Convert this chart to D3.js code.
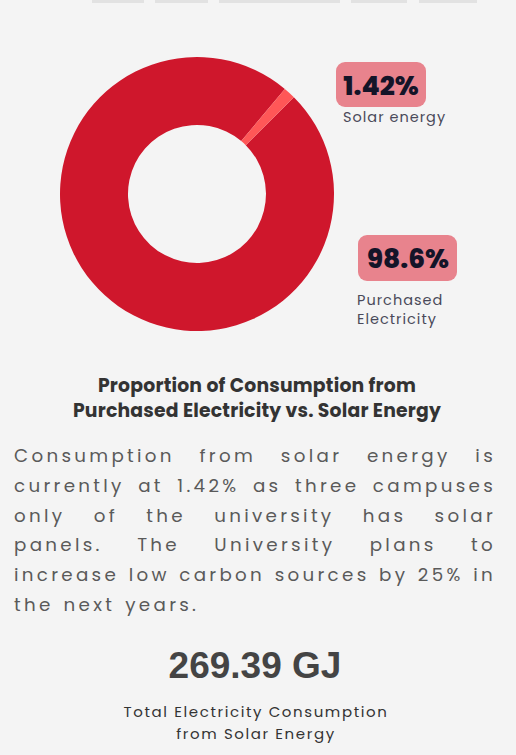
<!DOCTYPE html>
<html>
<head>
<meta charset="utf-8">
<script src="https://cdn.jsdelivr.net/npm/d3@7"></script>
<style>
html,body{margin:0;padding:0;background:#f4f4f4;}
svg{display:block;}
</style>
</head>
<body>
<svg id="chart" width="516" height="755"></svg>
<script>
const categories = ["Purchased Electricity", "Solar energy"];
const values = [98.58, 1.42];
const labelTexts = ["98.6%", "1.42%"];
const labelSubs = [["Purchased", "Electricity"], ["Solar energy"]];
const colors = ["#cf172c", "#ff5757"];
const titleLines = ["Proportion of Consumption from", "Purchased Electricity vs. Solar Energy"];
const bodyLines = [
  "Consumption from solar energy is",
  "currently at 1.42% as three campuses",
  "only of the university has solar",
  "panels. The University plans to",
  "increase low carbon sources by 25% in",
  "the next years."
];
const totalValue = "269.39 GJ";
const totalLabel = ["Total Electricity Consumption", "from Solar Energy"];

const svg = d3.select("#chart");

// top decorative strip
const strip = [[92,144],[155,208],[219,340],[351,407],[419,477]];
svg.selectAll("rect.strip").data(strip).join("rect")
  .attr("x", d => d[0]).attr("y", 0).attr("width", d => d[1]-d[0]).attr("height", 3)
  .attr("fill", "#e2e2e2");

// donut
const cx = 197, cy = 194, R = 137, r = 69;
const pie = d3.pie().sort(null).value(d => d)
  .startAngle(Math.PI/4).endAngle(Math.PI/4 + 2*Math.PI);
const arc = d3.arc().innerRadius(r).outerRadius(R);
const g = svg.append("g").attr("transform", `translate(${cx},${cy})`);
g.selectAll("path").data(pie(values)).join("path")
  .attr("d", arc).attr("fill", (d,i) => colors[i]);

// labels
const boxes = [
  {x:358, y:235, w:99, h:46, tx:408, ty:268, sx:357, sy:[305,324]},
  {x:336, y:62, w:90, h:45, tx:381, ty:95, sx:343, sy:[122]}
];
const fontMain = "Poppins, 'Open Sans', Inter, sans-serif";
boxes.forEach((b,i) => {
  svg.append("rect").attr("x", b.x).attr("y", b.y).attr("width", b.w).attr("height", b.h)
    .attr("rx", 9).attr("fill", "#e8838d");
  svg.append("text").attr("x", b.tx).attr("y", b.ty).attr("text-anchor","middle")
    .attr("font-family", fontMain).attr("font-weight", 800).attr("font-size", 26.5)
    .attr("fill", "#141428").text(labelTexts[i]);
  labelSubs[i].forEach((s,j) => {
    svg.append("text").attr("x", b.sx).attr("y", b.sy[j])
      .attr("font-family", fontMain).attr("font-size", 14.5).attr("letter-spacing", 1)
      .attr("fill", "#4a4a5a").text(s);
  });
});

// title
titleLines.forEach((t,i) => {
  svg.append("text").attr("x", 257).attr("y", 392 + i*24.5).attr("text-anchor","middle")
    .attr("font-family", fontMain).attr("font-weight", 700).attr("font-size", 18.8)
    .attr("letter-spacing", 0.2).attr("fill", "#333").text(t);
});

// justified body text
const left = 14, right = 496;
bodyLines.forEach((line, i) => {
  const y = 462 + i*29.8;
  const words = line.split(" ");
  const last = i === bodyLines.length - 1;
  const tg = svg.append("g");
  const ts = words.map(w => tg.append("text").attr("y", y)
    .attr("font-family", fontMain).attr("font-size", 18.3)
    .attr("letter-spacing", 3.3).attr("fill", "#5a5a5a").text(w));
  const widths = ts.map(t => t.node().getComputedTextLength());
  const total = widths.reduce((a,b)=>a+b,0);
  const gap = last || words.length < 2 ? 10 : (right - left - total) / (words.length - 1);
  let x = left;
  ts.forEach((t,k) => { t.attr("x", x); x += widths[k] + gap; });
});

// total
svg.append("text").attr("x", 255).attr("y", 678).attr("text-anchor","middle")
  .attr("font-family", "'Liberation Sans', Arial, sans-serif").attr("font-weight", 700)
  .attr("font-size", 37).attr("fill", "#444").text(totalValue);
totalLabel.forEach((t,i) => {
  svg.append("text").attr("x", 256).attr("y", 717 + i*22).attr("text-anchor","middle")
    .attr("font-family", fontMain).attr("font-size", 15).attr("letter-spacing", 1.6)
    .attr("fill", "#333").text(t);
});
</script>
</body>
</html>
